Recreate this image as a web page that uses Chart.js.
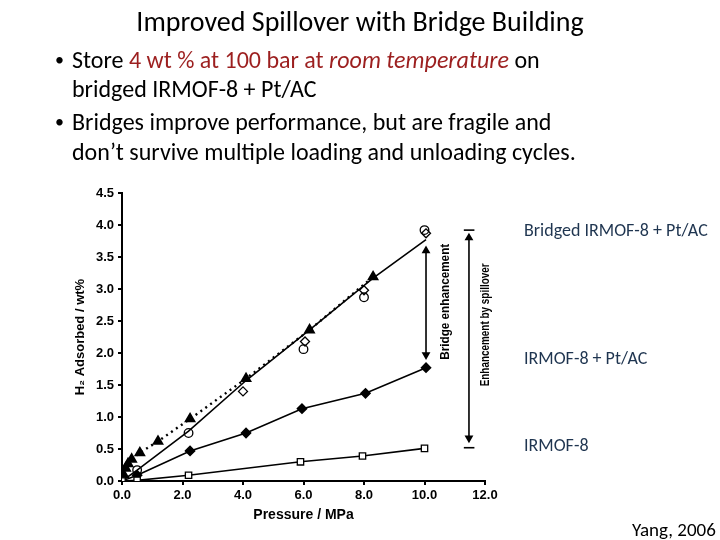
<!DOCTYPE html>
<html>
<head>
<meta charset="utf-8">
<script src="https://cdn.jsdelivr.net/npm/chart.js@4"></script>
<style>
    body { margin: 0; background: #fff; }
    #page { position: relative; width: 720px; height: 540px; overflow: hidden; font-family: Carlito, Lato, sans-serif; }
    #c { position: absolute; left: 0; top: 0; }
    .txt { position: absolute; white-space: nowrap; line-height: 1; }
    .title { left: 0; width: 720px; text-align: center; top: 8px; font-size: 28px; color: #000; }
    .bl { font-size: 24px; color: #000; }
    .dot { font-size: 18px; }
    .red { color: #9c1f1f; }
    .side { font-size: 18px; color: #1f3550; left: 524px; }
</style>
</head>
<body>
<div id="page">
    <canvas id="c" width="720" height="540"></canvas>
    <div class="txt title">Improved Spillover with Bridge Building</div>
    <div class="txt bl dot" style="left:55px;top:51px">•</div>
    <div class="txt bl" style="left:72px;top:48px">Store <span class="red">4 wt % at 100 bar at <i>room temperature</i></span> on</div>
    <div class="txt bl" style="left:72px;top:77px">bridged IRMOF-8 + Pt/AC</div>
    <div class="txt bl dot" style="left:55px;top:113px">•</div>
    <div class="txt bl" style="left:72px;top:110px">Bridges improve performance, but are fragile and</div>
    <div class="txt bl" style="left:72px;top:140px">don’t survive multiple loading and unloading cycles.</div>
    <div class="txt side" style="top:221px">Bridged IRMOF-8 + Pt/AC</div>
    <div class="txt side" style="top:349px">IRMOF-8 + Pt/AC</div>
    <div class="txt side" style="top:436px">IRMOF-8</div>
    <div class="txt" style="left:632px;top:520px;font-size:19px;color:#000">Yang, 2006</div>
</div>
<script>
/* ---------- data ---------- */
// IRMOF-8 (open squares)
const irmofX = [0, 0.5, 2.2, 5.9, 7.95, 10.0];
const irmofY = [0, 0.01, 0.09, 0.30, 0.39, 0.51];

// IRMOF-8 + Pt/AC (filled diamonds)
const ptX = [0, 0.5, 2.25, 4.1, 5.95, 8.05, 10.05];
const ptY = [0, 0.09, 0.47, 0.75, 1.13, 1.37, 1.77];

// bridged IRMOF-8 + Pt/AC, adsorption (filled triangles, dotted line)
const brAdsX = [0, 0.05, 0.12, 0.2, 0.32, 0.59, 1.19, 2.25, 4.1, 6.2, 8.3];
const brAdsY = [0, 0.1, 0.2, 0.27, 0.34, 0.44, 0.62, 0.97, 1.6, 2.36, 3.19];

// bridged, desorption (open circles)
const brDesX = [0, 0.5, 2.2, 6.0, 8.0, 10.0];
const brDesY = [0, 0.17, 0.75, 2.06, 2.87, 3.92];

// bridged, open diamonds
const brDiaX = [4.0, 6.05, 8.0, 10.05];
const brDiaY = [1.4, 2.18, 2.98, 3.87];

// solid line through the bridged data
const brLineX = [0, 0.5, 2.2, 4.1, 6.2, 8.3, 10.05];
const brLineY = [0, 0.17, 0.78, 1.57, 2.36, 3.17, 3.77];

// axis ticks
const xTicks = [0, 2, 4, 6, 8, 10, 12];
const yTicks = [0, 0.5, 1, 1.5, 2, 2.5, 3, 3.5, 4, 4.5];

// enhancement arrows
const bridgeArrowX = [10.05, 10.05];
const bridgeArrowY = [1.97, 3.6];
const spillArrowX = [11.47, 11.47];
const spillArrowY = [0.67, 3.8];
const spillCapX = [11.3, 11.65];
const spillTopY = [3.92, 3.92];
const spillBotY = [0.52, 0.52];

const pts = (xs, ys) => xs.map((x, i) => ({ x: x, y: ys[i] }));

/* ---------- rotated annotation labels ---------- */
const rotLabels = {
    id: 'rotLabels',
    afterDatasetsDraw(chart) {
        const { ctx, scales: { x, y } } = chart;
        ctx.save();
        ctx.fillStyle = '#000';
        ctx.font = 'bold 13px "Liberation Sans", Arial, sans-serif';
        ctx.textAlign = 'center';
        ctx.textBaseline = 'middle';
        const draw = (txt, vx, vy, w) => {
            ctx.save();
            ctx.translate(x.getPixelForValue(vx), y.getPixelForValue(vy));
            ctx.rotate(-Math.PI / 2);
            ctx.fillText(txt, 0, 0, w);
            ctx.restore();
        };
        draw('Bridge enhancement', 10.68, 2.8, 116);
        draw('Enhancement by spillover', 12.03, 2.44, 123);
        ctx.restore();
    }
};

const tickFont = { family: '"Liberation Sans", Arial, sans-serif', size: 13, weight: 'bold' };

new Chart(document.getElementById('c').getContext('2d'), {
    type: 'scatter',
    data: {
        datasets: [
            {
                data: pts(irmofX, irmofY), showLine: true, borderColor: '#000', borderWidth: 1.6,
                pointStyle: 'rect', pointRadius: 4.5, pointBackgroundColor: '#fff', pointBorderColor: '#000', pointBorderWidth: 1.3
            },
            {
                data: pts(ptX, ptY), showLine: true, borderColor: '#000', borderWidth: 1.6,
                pointStyle: 'rectRot', pointRadius: 4.5, pointBackgroundColor: '#000', pointBorderColor: '#000'
            },
            {
                data: pts(brLineX, brLineY), showLine: true, borderColor: '#000', borderWidth: 1.6, pointRadius: 0
            },
            {
                data: pts(brAdsX, brAdsY), showLine: true, borderColor: '#000', borderWidth: 2.4, borderDash: [2, 4],
                pointStyle: 'triangle', pointRadius: 4.5, pointBackgroundColor: '#000', pointBorderColor: '#000'
            },
            {
                data: pts(brDesX, brDesY), pointStyle: 'circle', pointRadius: 4.3,
                pointBackgroundColor: 'rgba(255,255,255,0)', pointBorderColor: '#000', pointBorderWidth: 1.3
            },
            {
                data: pts(brDiaX, brDiaY), pointStyle: 'rectRot', pointRadius: 4.5,
                pointBackgroundColor: 'rgba(255,255,255,0)', pointBorderColor: '#000', pointBorderWidth: 1.3
            },
            {
                data: pts(bridgeArrowX, bridgeArrowY), showLine: true, borderColor: '#000', borderWidth: 1.6,
                pointStyle: 'triangle', pointRadius: 3.5, pointRotation: [180, 0],
                pointBackgroundColor: '#000', pointBorderColor: '#000'
            },
            {
                data: pts(spillArrowX, spillArrowY), showLine: true, borderColor: '#000', borderWidth: 1.6,
                pointStyle: 'triangle', pointRadius: 3.5, pointRotation: [180, 0],
                pointBackgroundColor: '#000', pointBorderColor: '#000'
            },
            { data: pts(spillCapX, spillTopY), showLine: true, borderColor: '#000', borderWidth: 1.6, pointRadius: 0 },
            { data: pts(spillCapX, spillBotY), showLine: true, borderColor: '#000', borderWidth: 1.6, pointRadius: 0 }
        ]
    },
    options: {
        responsive: false,
        animation: false,
        layout: { padding: { left: 70, right: 235, top: 193, bottom: 12 } },
        plugins: { legend: { display: false }, tooltip: { enabled: false } },
        scales: {
            x: {
                type: 'linear',
                min: 0, max: 12,
                afterFit: s => { s.height = 47; },
                afterBuildTicks: s => { s.ticks = xTicks.map(v => ({ value: v })); },
                ticks: { color: '#000', font: tickFont, padding: 3, callback: v => v.toFixed(1) },
                grid: { drawOnChartArea: false, color: '#000', lineWidth: 2, tickLength: 4 },
                border: { color: '#000', width: 2 },
                title: { display: true, text: 'Pressure / MPa', color: '#000', padding: 4,
                    font: { family: '"Liberation Sans", Arial, sans-serif', size: 14, weight: 'bold' } }
            },
            y: {
                type: 'linear',
                min: 0, max: 4.5,
                afterFit: s => { s.width = 52; },
                afterBuildTicks: s => { s.ticks = yTicks.map(v => ({ value: v })); },
                ticks: { color: '#000', font: tickFont, padding: 4, callback: v => v.toFixed(1) },
                grid: { drawOnChartArea: false, color: '#000', lineWidth: 2, tickLength: 4 },
                border: { color: '#000', width: 2 },
                title: { display: true, text: 'H₂ Adsorbed / wt%', color: '#000', padding: 3,
                    font: { family: '"Liberation Sans", Arial, sans-serif', size: 13, weight: 'bold' } }
            }
        }
    },
    plugins: [rotLabels]
});
</script>
</body>
</html>
